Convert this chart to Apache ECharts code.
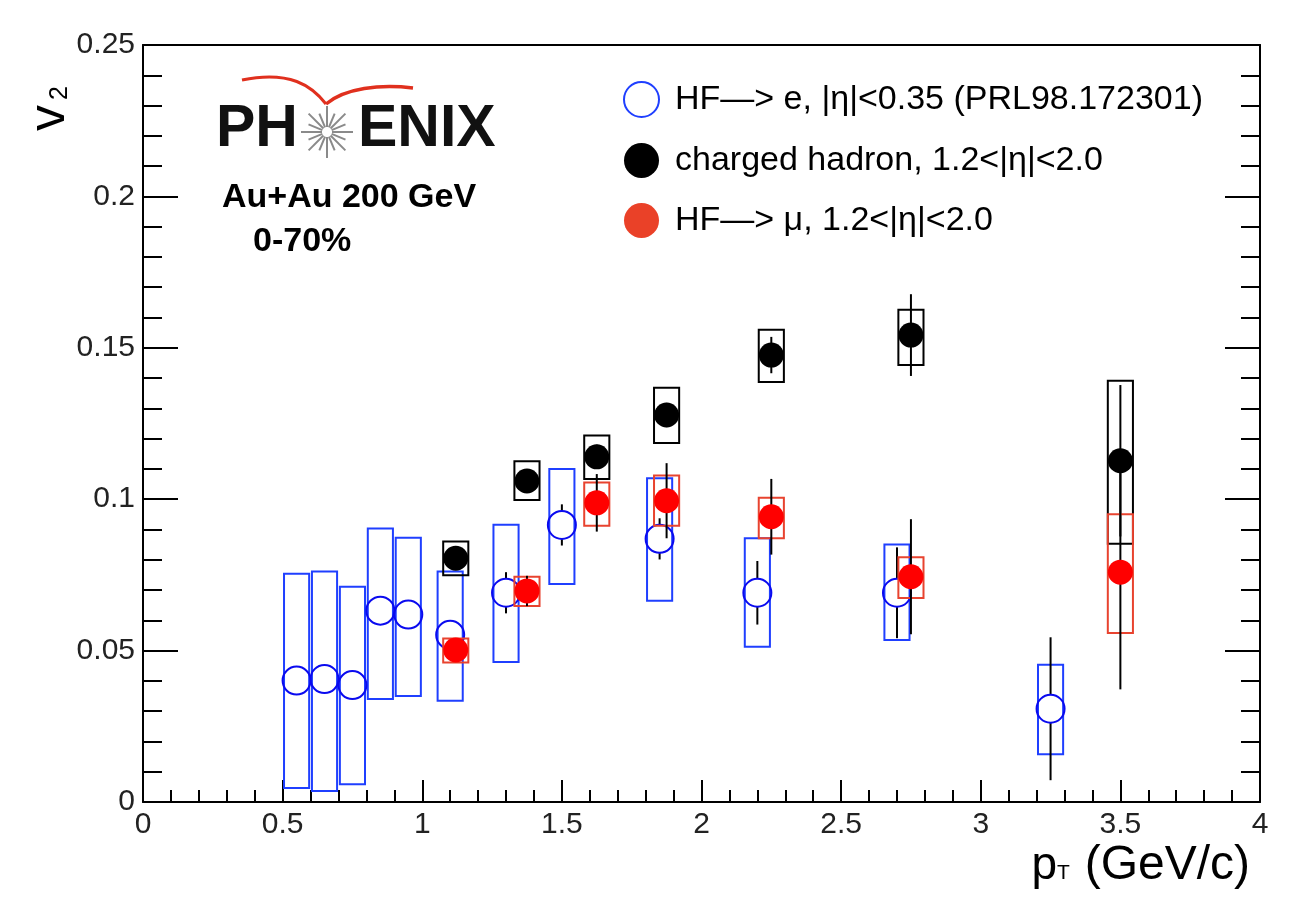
<!DOCTYPE html>
<html>
<head>
<meta charset="utf-8">
<title>PHENIX v2</title>
<script src="https://cdn.jsdelivr.net/npm/echarts@6/dist/echarts.min.js"></script>
<style>
  html, body { margin: 0; padding: 0; background: #fff; }
  #chart { width: 1290px; height: 906px; }
</style>
</head>
<body>
<div id="chart"></div>
<script>
// HF -> e, |eta|<0.35 (PRL98.172301)
var eX       = [0.55, 0.65, 0.75, 0.85, 0.95, 1.1, 1.3, 1.5, 1.85, 2.2, 2.7, 3.25];
var eV2      = [0.0401, 0.0406, 0.0386, 0.0632, 0.0619, 0.0552, 0.0691, 0.0915, 0.0869, 0.0691, 0.0691, 0.0308];
var eStat    = [0.003, 0.003, 0.003, 0.003, 0.003, 0.004, 0.0068, 0.0068, 0.0068, 0.0105, 0.015, 0.0236];
var eSysLow  = [0.0046, 0.0036, 0.0059, 0.034, 0.035, 0.0334, 0.0462, 0.072, 0.0665, 0.0513, 0.0535, 0.0158];
var eSysHigh = [0.0754, 0.0761, 0.0711, 0.0903, 0.0873, 0.0761, 0.0916, 0.110, 0.1069, 0.0871, 0.085, 0.0453];

// charged hadron, 1.2<|eta|<2.0
var hX       = [1.12, 1.375, 1.625, 1.875, 2.25, 2.75, 3.5];
var hV2      = [0.0805, 0.106, 0.114, 0.1278, 0.1476, 0.1542, 0.1127];
var hStat    = [0.003, 0.003, 0.004, 0.004, 0.006, 0.0135, 0.025];
var hSysLow  = [0.0749, 0.0997, 0.1067, 0.1186, 0.1387, 0.1443, 0.0853];
var hSysHigh = [0.086, 0.1125, 0.121, 0.1368, 0.156, 0.1626, 0.1391];

// HF -> mu, 1.2<|eta|<2.0
var mX       = [1.12, 1.375, 1.625, 1.875, 2.25, 2.75, 3.5];
var mV2      = [0.0502, 0.0697, 0.0988, 0.0995, 0.0942, 0.0744, 0.0759];
var mStat    = [0.003, 0.005, 0.0095, 0.0124, 0.0125, 0.019, 0.0387];
var mSysLow  = [0.0461, 0.0647, 0.0912, 0.0912, 0.0871, 0.0674, 0.0558];
var mSysHigh = [0.054, 0.0744, 0.1055, 0.1078, 0.1005, 0.0808, 0.095];

var names = ['HF\u2014> e, |\u03b7|<0.35 (PRL98.172301)',
             'charged hadron, 1.2<|\u03b7|<2.0',
             'HF\u2014> \u03bc, 1.2<|\u03b7|<2.0'];

var boxHalf = 0.045;
var FONT = 'Liberation Sans, Arial, sans-serif';

function zip(xs, a, b) {
    return xs.map(function (x, i) { return b ? [x, a[i], b[i]] : [x, a[i]]; });
}

function boxRender(color) {
    return function (params, api) {
        var x = api.value(0);
        var tl = api.coord([x - boxHalf, api.value(2)]);
        var br = api.coord([x + boxHalf, api.value(1)]);
        return {
            type: 'rect',
            shape: { x: tl[0], y: tl[1], width: br[0] - tl[0], height: br[1] - tl[1] },
            style: { fill: 'none', stroke: color, lineWidth: 2 }
        };
    };
}

function errRender(gap) {
    return function (params, api) {
        var x = api.value(0), y = api.value(1), e = api.value(2);
        var c = api.coord([x, y]);
        var top = api.coord([x, y + e]);
        var bot = api.coord([x, y - e]);
        var kids = [];
        if (c[1] - gap > top[1]) {
            kids.push({ type: 'line', shape: { x1: c[0], y1: c[1] - gap, x2: c[0], y2: top[1] },
                        style: { stroke: '#000', lineWidth: 2 } });
        }
        if (c[1] + gap < bot[1]) {
            kids.push({ type: 'line', shape: { x1: c[0], y1: c[1] + gap, x2: c[0], y2: bot[1] },
                        style: { stroke: '#000', lineWidth: 2 } });
        }
        return { type: 'group', children: kids };
    };
}

function logoGraphics() {
    var g = [];
    // red swoosh
    g.push({ type: 'bezierCurve', z: 20,
             shape: { x1: 242, y1: 80, x2: 326, y2: 104, cpx1: 290, cpy1: 70, cpx2: 312, cpy2: 86 },
             style: { stroke: '#e0301e', lineWidth: 3, fill: null } });
    g.push({ type: 'bezierCurve', z: 20,
             shape: { x1: 326, y1: 104, x2: 413, y2: 88, cpx1: 345, cpy1: 88, cpx2: 380, cpy2: 84 },
             style: { stroke: '#e0301e', lineWidth: 3.5, fill: null } });
    // star
    var cx = 327, cy = 132;
    for (var k = 0; k < 16; k++) {
        var a = k * Math.PI / 8;
        var r2 = (k % 2 === 0) ? 26 : 20;
        g.push({ type: 'line', z: 20,
                 shape: { x1: cx + 5 * Math.cos(a), y1: cy + 5 * Math.sin(a),
                          x2: cx + r2 * Math.cos(a), y2: cy + r2 * Math.sin(a) },
                 style: { stroke: '#8a8a8a', lineWidth: 2 } });
    }
    g.push({ type: 'text', z: 20, x: 216, y: 130,
             style: { text: 'PH', font: 'bold 59px ' + FONT, fill: '#111', align: 'left', verticalAlign: 'middle' } });
    g.push({ type: 'text', z: 20, x: 358, y: 130,
             style: { text: 'ENIX', font: 'bold 59px ' + FONT, fill: '#111', align: 'left', verticalAlign: 'middle' } });
    return g;
}

function titleGraphics() {
    var g = [];
    g.push({ type: 'text', z: 20, x: 222, y: 198,
             style: { text: 'Au+Au 200 GeV', font: 'bold 34px ' + FONT, fill: '#000', verticalAlign: 'middle' } });
    g.push({ type: 'text', z: 20, x: 253, y: 242,
             style: { text: '0-70%', font: 'bold 34px ' + FONT, fill: '#000', verticalAlign: 'middle' } });
    // y title v2
    g.push({ type: 'text', z: 20, x: 50, y: 118, rotation: Math.PI / 2,
             style: { text: 'v', font: '52px ' + FONT, fill: '#000', align: 'center', verticalAlign: 'middle' } });
    g.push({ type: 'text', z: 20, x: 60, y: 93, rotation: Math.PI / 2,
             style: { text: '2', font: '25px ' + FONT, fill: '#000', align: 'center', verticalAlign: 'middle' } });
    // x title pT (GeV/c)
    g.push({ type: 'text', z: 20, x: 1250, y: 866,
             style: { text: '(GeV/c)', font: '48px ' + FONT, fill: '#000', align: 'right', verticalAlign: 'middle' } });
    g.push({ type: 'text', z: 20, x: 1057, y: 873,
             style: { text: 'T', font: '21px ' + FONT, fill: '#000', align: 'left', verticalAlign: 'middle' } });
    g.push({ type: 'text', z: 20, x: 1057, y: 866,
             style: { text: 'p', font: '46px ' + FONT, fill: '#000', align: 'right', verticalAlign: 'middle' } });
    return g;
}

function setChart() {
    var chart = echarts.init(document.getElementById('chart'), null, { renderer: 'canvas' });
    var axisLine = { show: true, onZero: false, lineStyle: { color: '#000', width: 2 } };
    var option = {
        animation: false,
        backgroundColor: '#fff',
        grid: { left: 143, right: 30, top: 45, bottom: 104 },
        legend: {
            orient: 'vertical',
            left: 618, top: 76,
            itemWidth: 35, itemHeight: 35, itemGap: 25,
            selectedMode: false,
            textStyle: { fontFamily: FONT, fontSize: 34, color: '#000', padding: [0, 0, 0, 11] },
            data: [
                { name: names[0], icon: 'circle', itemStyle: { color: '#fff', borderColor: '#1f3fff', borderWidth: 2, opacity: 1 } },
                { name: names[1], icon: 'circle', itemStyle: { color: '#000', borderWidth: 0, opacity: 1 } },
                { name: names[2], icon: 'circle', itemStyle: { color: '#ea4128', borderWidth: 0, opacity: 1 } }
            ]
        },
        xAxis: [{
            type: 'value', min: 0, max: 4, interval: 0.5,
            axisLine: axisLine,
            axisTick: { show: true, inside: true, length: 22, lineStyle: { color: '#000', width: 2 } },
            minorTick: { show: true, splitNumber: 5, length: 12, lineStyle: { color: '#000', width: 2 } },
            splitLine: { show: false },
            axisLabel: { fontFamily: FONT, fontSize: 30, color: '#222', margin: 8 }
        }, {
            type: 'value', position: 'top', min: 0, max: 4,
            axisLine: axisLine, axisTick: { show: false }, axisLabel: { show: false }, splitLine: { show: false }
        }],
        yAxis: [{
            type: 'value', min: 0, max: 0.25, interval: 0.05,
            axisLine: axisLine,
            axisTick: { show: true, inside: true, length: 35, lineStyle: { color: '#000', width: 2 } },
            minorTick: { show: true, splitNumber: 5, length: 19, lineStyle: { color: '#000', width: 2 } },
            splitLine: { show: false },
            axisLabel: { fontFamily: FONT, fontSize: 30, color: '#222', margin: 8 }
        }, {
            type: 'value', position: 'right', min: 0, max: 0.25, interval: 0.05,
            axisLine: axisLine,
            axisTick: { show: true, inside: true, length: 35, lineStyle: { color: '#000', width: 2 } },
            minorTick: { show: true, splitNumber: 5, length: 19, lineStyle: { color: '#000', width: 2 } },
            splitLine: { show: false },
            axisLabel: { show: false }
        }],
        graphic: logoGraphics().concat(titleGraphics()),
        series: [
            { type: 'custom', name: 'eSys', z: 1, renderItem: boxRender('#1f3fff'), data: zip(eX, eSysLow, eSysHigh), silent: true },
            { type: 'custom', name: 'eStat', z: 2, renderItem: errRender(14), data: zip(eX, eV2, eStat), silent: true },
            { type: 'scatter', name: names[0], z: 3, symbol: 'circle', symbolSize: 28, data: zip(eX, eV2),
              itemStyle: { color: 'rgba(255,255,255,0)', borderColor: '#0a0aef', borderWidth: 2, opacity: 1 },
              emphasis: { disabled: true } },
            { type: 'custom', name: 'hSys', z: 4, renderItem: boxRender('#000'), data: zip(hX, hSysLow, hSysHigh), silent: true },
            { type: 'custom', name: 'hStat', z: 5, renderItem: errRender(0), data: zip(hX, hV2, hStat), silent: true },
            { type: 'scatter', name: names[1], z: 6, symbol: 'circle', symbolSize: 25, data: zip(hX, hV2),
              itemStyle: { color: '#000', opacity: 1 }, emphasis: { disabled: true } },
            { type: 'custom', name: 'mSys', z: 7, renderItem: boxRender('#e8432f'), data: zip(mX, mSysLow, mSysHigh), silent: true },
            { type: 'custom', name: 'mStat', z: 8, renderItem: errRender(0), data: zip(mX, mV2, mStat), silent: true },
            { type: 'scatter', name: names[2], z: 9, symbol: 'circle', symbolSize: 25, data: zip(mX, mV2),
              itemStyle: { color: '#ff0000', opacity: 1 }, emphasis: { disabled: true } }
        ]
    };
    chart.setOption(option);
}

setChart();
</script>
</body>
</html>
